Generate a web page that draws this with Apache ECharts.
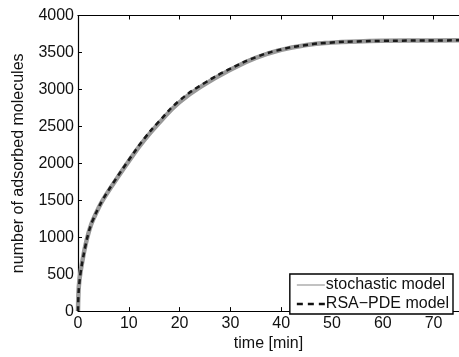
<!DOCTYPE html>
<html><head><meta charset="utf-8">
<script src="https://cdn.jsdelivr.net/npm/echarts@6/dist/echarts.min.js"></script>
<style>html,body{margin:0;padding:0;background:#fff}#c{width:459px;height:357px}</style>
</head><body><div id="c"></div>
<script>
var timeMin = [0,0.1,0.25,0.5,1,1.5,2,2.5,3,4,5,7,10,13,16,20,25,30,35,40,45,50,55,60,70,75];
var rsaPde  = [0,230,365,515,720,895,1040,1155,1243,1393,1522,1740,2045,2330,2570,2850,3090,3280,3435,3540,3602,3634,3649,3657,3662,3664];
var stochastic = [0,260,400,530,730,900,1040,1153,1240,1388,1515,1728,2030,2310,2548,2828,3072,3266,3426,3535,3600,3633,3649,3657,3662,3664];
var xTicks = [0,10,20,30,40,50,60,70];
var yTicks = [0,500,1000,1500,2000,2500,3000,3500,4000];

function pairs(xs, ys){ return xs.map(function(x,i){ return [x, ys[i]]; }); }

var chart = echarts.init(document.getElementById('c'));
var font = 'Liberation Sans, Arial, Helvetica, sans-serif';
chart.setOption({
  animation:false,
  textStyle:{fontFamily:font},
  grid:{left:78, top:15.5, right:-3.5, bottom:38.5, containLabel:false},
  legend:{
    right:6, bottom:43, orient:'vertical', itemGap:3,
    backgroundColor:'#fff', borderColor:'#000', borderWidth:1.4, borderRadius:0,
    padding:[3,4,2,7], itemWidth:28, itemHeight:10,
    textStyle:{fontSize:16, color:'#111', fontFamily:font, padding:[0,0,0,-4]},
    data:[
      {name:'stochastic model', icon:'path://M0,4.4 L28,4.4 L28,5.6 L0,5.6 Z', itemStyle:{color:'#999'}},
      {name:'RSA\u2212PDE model', icon:'path://M0,3.8 L6,3.8 L6,6.2 L0,6.2 Z M11,3.8 L17,3.8 L17,6.2 L11,6.2 Z M22,3.8 L28,3.8 L28,6.2 L22,6.2 Z', itemStyle:{color:'#111'}}
    ]
  },
  xAxis:[{
    type:'value', min:0, max:75, interval:10,
    name:'time [min]', nameLocation:'middle', nameGap:24,
    nameTextStyle:{fontSize:16, color:'#111'},
    axisLine:{show:true, lineStyle:{color:'#000', width:1.2}},
    axisTick:{show:true, inside:true, length:4, lineStyle:{color:'#000'}},
    axisLabel:{fontSize:16, color:'#111', margin:4, showMaxLabel:false,
      formatter:function(v){ return xTicks.indexOf(v)>=0 ? String(v) : ''; }},
    splitLine:{show:false}
  },{
    type:'value', min:0, max:75, interval:10, position:'top',
    axisLine:{show:true, onZero:false, lineStyle:{color:'#000', width:1.2}},
    axisTick:{show:true, inside:true, length:4, lineStyle:{color:'#000'}},
    axisLabel:{show:false}, splitLine:{show:false}
  }],
  yAxis:[{
    type:'value', min:0, max:4000, interval:500,
    name:'number of adsorbed molecules', nameLocation:'middle', nameGap:51,
    nameTextStyle:{fontSize:16, color:'#111'},
    axisLine:{show:true, lineStyle:{color:'#000', width:1.2}},
    axisTick:{show:true, inside:true, length:4, lineStyle:{color:'#000'}},
    axisLabel:{fontSize:16, color:'#111', margin:4,
      formatter:function(v){ return yTicks.indexOf(v)>=0 ? String(v) : ''; }},
    splitLine:{show:false}
  }],
  series:[{
    name:'stochastic model', type:'line', smooth:0.5, showSymbol:false, symbol:'none',
    data:pairs(timeMin, stochastic), lineStyle:{color:'#999', width:4.5}, z:2
  },{
    name:'RSA\u2212PDE model', type:'line', smooth:0.5, showSymbol:false, symbol:'none',
    data:pairs(timeMin, rsaPde), lineStyle:{color:'#1a1a1a', width:2.5, type:[5,4]}, z:3
  }]
});
</script></body></html>
